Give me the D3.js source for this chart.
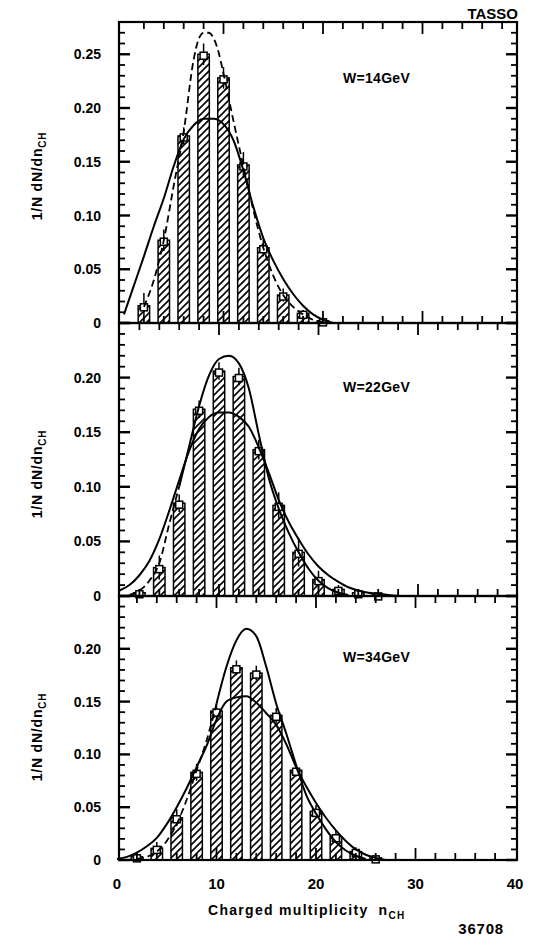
<!DOCTYPE html>
<html>
<head>
<meta charset="utf-8">
<script src="https://cdn.jsdelivr.net/npm/d3@7"></script>
<style>
  body { margin: 0; background: #fff; }
  text { font-family: "Liberation Sans", Arial, sans-serif; font-weight: bold; fill: #000; }
</style>
</head>
<body>
<div id="my_dataviz"></div>
<script>
// multiplicity bins (even n only) and measured 1/N dN/dn per energy
const nW14 = [2, 4, 6, 8, 10, 12, 14, 16, 18, 20];
const barsW14 = [0.016, 0.077, 0.174, 0.250, 0.228, 0.147, 0.070, 0.026, 0.009, 0.002];
const errW14 = [0.012, 0.010, 0.008, 0.010, 0.010, 0.012, 0.008, 0.006, 0.003, 0];

const nW22 = [2, 4, 6, 8, 10, 12, 14, 16, 18, 20, 22, 24, 26];
const barsW22 = [0.003, 0.026, 0.085, 0.171, 0.206, 0.201, 0.134, 0.083, 0.040, 0.015, 0.006, 0.003, 0.001];
const errW22 = [0.003, 0.011, 0.008, 0.008, 0.008, 0.008, 0.009, 0.012, 0.013, 0.008, 0.004, 0.002, 0];

const nW34 = [2, 4, 6, 8, 10, 12, 14, 16, 18, 20, 22, 24, 26];
const barsW34 = [0.003, 0.011, 0.040, 0.083, 0.141, 0.182, 0.177, 0.137, 0.085, 0.046, 0.022, 0.008, 0.002];
const errW34 = [0.002, 0.006, 0.008, 0.008, 0.007, 0.007, 0.007, 0.007, 0.006, 0.006, 0.006, 0.004, 0.002];

// fitted curves: [n, value]
const broadW14 = [[0,0.008],[1,0.035],[2,0.062],[3,0.09],[4,0.116],[5,0.146],[6,0.171],[7,0.184],[8,0.19],[9,0.19],
  [10,0.185],[11,0.17],[12,0.142],[13,0.108],[14,0.079],[15,0.058],[16,0.041],[17,0.027],[18,0.016],[19,0.008],[20,0.003],[21,0]];
const narrowW14 = [[2,0.015],[3,0.04],[4,0.077],[5,0.128],[6,0.178],[7,0.245],[7.5,0.264],[8,0.27],[8.5,0.27],[9,0.265],
  [9.5,0.252],[10,0.232],[11,0.188],[12,0.146],[13,0.105],[14,0.07],[15,0.044],[16,0.026],[17,0.015],[18,0.008],[19,0.003],[20,0.001]];

const broadW22 = [[0,0.005],[1,0.01],[2,0.019],[3,0.032],[4,0.052],[5,0.078],[6,0.106],[7,0.133],[8,0.153],[9,0.164],
  [10,0.168],[11,0.168],[12,0.164],[13,0.155],[14,0.136],[15,0.113],[16,0.088],[17,0.068],[18,0.052],[19,0.038],
  [20,0.027],[21,0.019],[22,0.013],[23,0.008],[24,0.005],[25,0.003],[26,0.002],[27,0.001],[28,0]];
const narrowW22 = [[1,0.001],[2,0.005],[3,0.014],[4,0.03],[5,0.066],[6,0.1],[7,0.137],[8,0.174],[9,0.202],[10,0.217],
  [11,0.22],[12,0.213],[13,0.19],[14,0.148],[15,0.108],[16,0.08],[17,0.058],[18,0.04],[19,0.025],[20,0.014],
  [21,0.007],[22,0.003],[23,0.001]];

const broadW34 = [[0,0.001],[1,0.003],[2,0.007],[3,0.013],[4,0.021],[5,0.034],[6,0.05],[7,0.068],[8,0.088],[9,0.108],
  [10,0.133],[11,0.15],[12,0.154],[13,0.155],[14,0.149],[15,0.139],[16,0.128],[17,0.11],[18,0.088],[19,0.07],
  [20,0.054],[21,0.04],[22,0.028],[23,0.018],[24,0.01],[25,0.005],[26,0.002],[27,0]];
const narrowW34 = [[2,0.001],[3,0.003],[4,0.008],[5,0.018],[6,0.034],[7,0.057],[8,0.085],[9,0.113],[10,0.148],
  [11,0.183],[12,0.208],[13,0.219],[14,0.212],[15,0.183],[16,0.148],[17,0.12],[18,0.09],[19,0.062],[20,0.044],
  [21,0.029],[22,0.017],[23,0.009],[24,0.004],[25,0.001]];

const yTicksW14 = [0, 0.05, 0.10, 0.15, 0.20, 0.25];
const yTicksW22 = [0, 0.05, 0.10, 0.15, 0.20];
const yTicksW34 = [0, 0.05, 0.10, 0.15, 0.20];
const xTickLabels = [0, 10, 20, 30, 40];

const width = 538, height = 945;
const frameLeft = 119, frameRight = 517;

// layout of the three stacked panels (scan is a bit skewed, hence x0)
const panels = [
  { label: "W=14GeV", n: nW14, bars: barsW14, err: errW14, broad: broadW14, narrow: narrowW14, dashTo: 99,
    yTicks: yTicksW14, top: 22, bottom: 323, max: 0.28, x0: 124, labelY: 83, titleY: 176 },
  { label: "W=22GeV", n: nW22, bars: barsW22, err: errW22, broad: broadW22, narrow: narrowW22, dashTo: 6,
    yTicks: yTicksW22, top: 323, bottom: 596, max: 0.25, x0: 119.5, labelY: 392, titleY: 474 },
  { label: "W=34GeV", n: nW34, bars: barsW34, err: errW34, broad: broadW34, narrow: narrowW34, dashTo: 10,
    yTicks: yTicksW34, top: 596, bottom: 860, max: 0.25, x0: 117, labelY: 662, titleY: 737 }
];

const svg = d3.select("#my_dataviz")
  .append("svg")
  .attr("width", width)
  .attr("height", height);

// diagonal hatching for the bars
svg.append("defs").append("pattern")
  .attr("id", "hatch")
  .attr("patternUnits", "userSpaceOnUse")
  .attr("width", 7)
  .attr("height", 7)
  .append("path")
  .attr("d", "M0,7 L7,0 M-2,2 L2,-2 M5,9 L9,5")
  .attr("stroke", "#000")
  .attr("stroke-width", 1.6);

const line = d3.line().curve(d3.curveMonotoneX);

panels.forEach(p => {
  const x = d3.scaleLinear().domain([0, 40]).range([p.x0, p.x0 + 398]);
  const y = d3.scaleLinear().domain([0, p.max]).range([p.bottom, p.top]);
  const g = svg.append("g");

  // bars
  const barW = x(1.15) - x(0);
  g.selectAll("rect.bar")
    .data(p.n.map((n, i) => ({ n: n, v: p.bars[i], e: p.err[i] })))
    .join("rect")
    .attr("class", "bar")
    .attr("x", d => x(d.n) - barW / 2)
    .attr("y", d => y(d.v))
    .attr("width", barW)
    .attr("height", d => y(0) - y(d.v))
    .attr("fill", "url(#hatch)")
    .attr("stroke", "#000")
    .attr("stroke-width", 1.5);

  // error bars and open squares at bar tops
  const pts = p.n.map((n, i) => ({ n: n, v: p.bars[i], e: p.err[i] }));
  g.selectAll("line.err")
    .data(pts.filter(d => d.e > 0))
    .join("line")
    .attr("x1", d => x(d.n)).attr("x2", d => x(d.n))
    .attr("y1", d => y(d.v + d.e)).attr("y2", d => y(Math.max(0, d.v - d.e)))
    .attr("stroke", "#000").attr("stroke-width", 1.5);
  g.selectAll("rect.pt")
    .data(pts)
    .join("rect")
    .attr("class", "pt")
    .attr("x", d => x(d.n) - 3.5)
    .attr("y", d => y(d.v) - 2)
    .attr("width", 7).attr("height", 7)
    .attr("fill", "#fff")
    .attr("stroke", "#000").attr("stroke-width", 1.5);

  // broad solid curve
  g.append("path")
    .attr("d", line(p.broad.map(d => [x(d[0]), y(d[1])])))
    .attr("fill", "none").attr("stroke", "#000").attr("stroke-width", 2);

  // narrow curve: dashed on its low side, solid beyond
  const dashPart = p.narrow.filter(d => d[0] <= p.dashTo);
  const solidPart = p.narrow.filter(d => d[0] >= p.dashTo);
  g.append("path")
    .attr("d", line(dashPart.map(d => [x(d[0]), y(d[1])])))
    .attr("fill", "none").attr("stroke", "#000").attr("stroke-width", 1.8)
    .attr("stroke-dasharray", "7,4");
  if (solidPart.length > 1) {
    g.append("path")
      .attr("d", line(solidPart.map(d => [x(d[0]), y(d[1])])))
      .attr("fill", "none").attr("stroke", "#000").attr("stroke-width", 2);
  }

  // frame
  svg.append("rect")
    .attr("x", frameLeft).attr("y", p.top)
    .attr("width", frameRight - frameLeft).attr("height", p.bottom - p.top)
    .attr("fill", "none").attr("stroke", "#000").attr("stroke-width", 2.2);

  // y ticks on both sides
  const yMinor = d3.range(0, p.max + 1e-9, 0.01);
  yMinor.forEach(v => {
    const major = Math.round(v * 100) % 5 === 0;
    const len = major ? 11 : 6;
    svg.append("line")
      .attr("x1", frameLeft).attr("x2", frameLeft + len)
      .attr("y1", y(v)).attr("y2", y(v))
      .attr("stroke", "#000").attr("stroke-width", major ? 2.4 : 1.8);
    svg.append("line")
      .attr("x1", frameRight).attr("x2", frameRight - len)
      .attr("y1", y(v)).attr("y2", y(v))
      .attr("stroke", "#000").attr("stroke-width", major ? 2.4 : 1.8);
  });

  // x ticks on top and bottom edges
  d3.range(2, 40, 2).forEach(n => {
    const xp = x(n);
    if (xp > frameRight - 3) return;
    const len = n % 10 === 0 ? 12 : 7;
    svg.append("line")
      .attr("x1", xp).attr("x2", xp)
      .attr("y1", p.top).attr("y2", p.top + len)
      .attr("stroke", "#000").attr("stroke-width", 1.8);
    svg.append("line")
      .attr("x1", xp).attr("x2", xp)
      .attr("y1", p.bottom).attr("y2", p.bottom - len)
      .attr("stroke", "#000").attr("stroke-width", 1.8);
  });

  // y tick labels
  svg.selectAll(null)
    .data(p.yTicks)
    .join("text")
    .attr("x", 101)
    .attr("y", d => y(d))
    .attr("dy", "0.36em")
    .attr("text-anchor", "end")
    .style("font-size", "14px")
    .text(d => d === 0 ? "0" : d3.format(".2f")(d));

  // energy label
  svg.append("text")
    .attr("x", 343).attr("y", p.labelY)
    .style("font-size", "14px")
    .style("letter-spacing", "0.3px")
    .text(p.label);

  // y axis title
  const t = svg.append("text")
    .attr("transform", `translate(42,${p.titleY}) rotate(-90)`)
    .attr("text-anchor", "middle")
    .style("font-size", "14px")
    .style("letter-spacing", "0.8px");
  t.append("tspan").text("1/N dN/dn");
  t.append("tspan").attr("dy", 4).style("font-size", "10px").text("CH");
});

// x tick labels under the bottom panel
const xBottom = d3.scaleLinear().domain([0, 40]).range([117, 515]);
svg.selectAll(null)
  .data(xTickLabels)
  .join("text")
  .attr("x", d => xBottom(d))
  .attr("y", 889)
  .attr("text-anchor", "middle")
  .style("font-size", "15px")
  .text(d => d);

// x axis title
const xt = svg.append("text")
  .attr("x", 208).attr("y", 915)
  .style("font-size", "14px")
  .style("letter-spacing", "1.3px");
xt.append("tspan").text("Charged multiplicity");
xt.append("tspan").attr("dx", 10).text("n");
xt.append("tspan").attr("dy", 4).style("font-size", "10px").text("CH");

svg.append("text")
  .attr("x", 518).attr("y", 19)
  .attr("text-anchor", "end")
  .style("font-size", "15px")
  .text("TASSO");

svg.append("text")
  .attr("x", 504).attr("y", 934)
  .attr("text-anchor", "end")
  .style("font-size", "15px")
  .style("letter-spacing", "0.8px")
  .text("36708");
</script>
</body>
</html>
